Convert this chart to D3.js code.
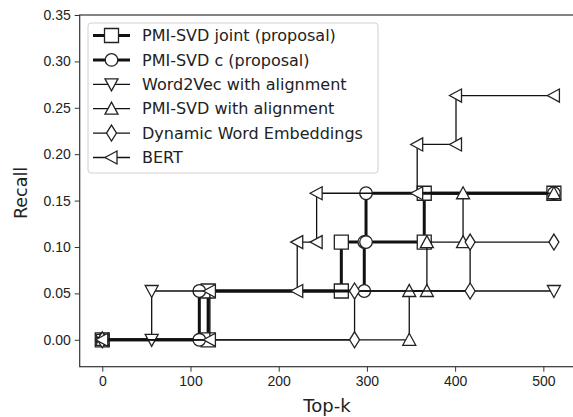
<!DOCTYPE html>
<html>
<head>
<meta charset="utf-8">
<script src="https://cdn.jsdelivr.net/npm/d3@7"></script>
<style>
    html, body { margin: 0; padding: 0; background: #fff; }
    svg { display: block; font-family: "DejaVu Sans", sans-serif; }
</style>
</head>
<body>
<svg id="chart" width="573" height="417"></svg>
<script>

// series, in legend order
const seriesNames = [
    "PMI-SVD joint (proposal)",
    "PMI-SVD c (proposal)",
    "Word2Vec with alignment",
    "PMI-SVD with alignment",
    "Dynamic Word Embeddings",
    "BERT"
];

const jointTopK   = [0, 120, 120, 271, 271, 365, 365, 512];
const jointRecall = [0, 0, 0.0526, 0.0526, 0.1053, 0.1053, 0.1579, 0.1579];

const cTopK   = [0, 110, 110, 297, 297, 299, 299, 512];
const cRecall = [0, 0, 0.0526, 0.0526, 0.1053, 0.1053, 0.1579, 0.1579];

const w2vTopK   = [0, 56, 56, 512];
const w2vRecall = [0, 0, 0.0526, 0.0526];

const alignTopK   = [0, 348, 348, 368, 368, 409, 409, 512];
const alignRecall = [0, 0, 0.0526, 0.0526, 0.1053, 0.1053, 0.1579, 0.1579];

const dweTopK   = [0, 286, 286, 417, 417, 512];
const dweRecall = [0, 0, 0.0526, 0.0526, 0.1053, 0.1053];

const bertTopK   = [0, 122, 122, 221, 221, 243, 243, 357, 357, 401, 401, 512];
const bertRecall = [0, 0, 0.0526, 0.0526, 0.1053, 0.1053, 0.1579, 0.1579, 0.2105, 0.2105, 0.2632, 0.2632];

const xTicks = [0, 100, 200, 300, 400, 500];
const yTicks = [0, 0.05, 0.10, 0.15, 0.20, 0.25, 0.30, 0.35];

// build the table the chart uses
const allTopK   = [jointTopK, cTopK, w2vTopK, alignTopK, dweTopK, bertTopK];
const allRecall = [jointRecall, cRecall, w2vRecall, alignRecall, dweRecall, bertRecall];
const markers   = ["square", "circle", "triDown", "triUp", "diamond", "triLeft"];
const widths    = [3, 3, 1.3, 1.3, 1.3, 1.3];

const series = seriesNames.map((name, i) => ({
    name: name,
    marker: markers[i],
    lw: widths[i],
    values: allTopK[i].map((k, j) => ({k: k, r: allRecall[i][j]}))
}));

const svg = d3.select("#chart");

const plot = {left: 79.7, right: 576.5, top: 15, bottom: 366.7};

const x = d3.scaleLinear()
    .domain([-25.6, 537.6])
    .range([plot.left, plot.right]);

const y = d3.scaleLinear()
    .domain([-0.029, 0.35])
    .range([plot.bottom, plot.top]);

/*
 * marker path, centred on 0,0
 */
const markerPath = (type) => {
    const s = 7;
    switch (type) {
        case "square":
            return `M${-s},${-s}H${s}V${s}H${-s}Z`;
        case "circle":
            return d3.symbol().type(d3.symbolCircle).size(Math.PI * 6.3 * 6.3)();
        case "triDown":
            return "M-6.5,-5.5L6.5,-5.5L0,6.5Z";
        case "triUp":
            return "M-6.5,5.5L6.5,5.5L0,-6.5Z";
        case "triLeft":
            return "M5.5,-6.5L5.5,6.5L-6.5,0Z";
        case "diamond":
            return "M0,-8L5,0L0,8L-5,0Z";
    }
};

// axes
const xAxis = svg.append("g")
    .attr("transform", `translate(0,${plot.bottom})`)
    .call(d3.axisBottom(x).tickValues(xTicks).tickSize(5).tickPadding(4).tickFormat(d3.format("d")));

const yAxis = svg.append("g")
    .attr("transform", `translate(${plot.left},0)`)
    .call(d3.axisLeft(y).tickValues(yTicks).tickSize(5).tickPadding(4).tickFormat(d3.format(".2f")));

[xAxis, yAxis].forEach(a => {
    a.select(".domain").remove();
    a.selectAll(".tick line").attr("stroke", "#333").attr("stroke-width", 1);
    a.selectAll(".tick text")
        .attr("fill", "#222")
        .style("font-size", "14px");
});

// spines
svg.append("rect")
    .attr("x", plot.left)
    .attr("y", plot.top)
    .attr("width", plot.right - plot.left)
    .attr("height", plot.bottom - plot.top)
    .attr("fill", "none")
    .attr("stroke", "#333")
    .attr("stroke-width", 1.2);

// lines + markers
const line = d3.line()
    .x(d => x(d.k))
    .y(d => y(d.r));

const gSeries = svg.append("g")
    .selectAll("g")
    .data(series)
    .join("g");

gSeries.append("path")
    .attr("d", d => line(d.values))
    .attr("fill", "none")
    .attr("stroke", "#111")
    .attr("stroke-width", d => d.lw)
    .attr("stroke-linejoin", "miter");

gSeries.each(function(s) {
    d3.select(this)
        .selectAll("path.mk")
        .data(s.values)
        .join("path")
            .attr("class", "mk")
            .attr("transform", d => `translate(${x(d.k)},${y(d.r)})`)
            .attr("d", markerPath(s.marker))
            .attr("fill", "#fff")
            .attr("stroke", "#222")
            .attr("stroke-width", 1.3);
});

// axis labels
svg.append("text")
    .attr("x", 327)
    .attr("y", 412)
    .attr("text-anchor", "middle")
    .attr("fill", "#222")
    .style("font-size", "18px")
    .text("Top-k");

svg.append("text")
    .attr("transform", "translate(27,193) rotate(-90)")
    .attr("text-anchor", "middle")
    .attr("fill", "#222")
    .style("font-size", "17.5px")
    .text("Recall");

// legend
const legend = svg.append("g")
    .attr("transform", "translate(88,23)");

legend.append("rect")
    .attr("width", 290)
    .attr("height", 150)
    .attr("rx", 3)
    .attr("fill", "#fff")
    .attr("fill-opacity", 0.85)
    .attr("stroke", "#d0d0d0");

const entries = legend.selectAll("g.entry")
    .data(series)
    .join("g")
        .attr("class", "entry")
        .attr("transform", (d, i) => `translate(0,${12.5 + i * 24.4})`);

entries.append("line")
    .attr("x1", 5)
    .attr("x2", 42)
    .attr("stroke", "#111")
    .attr("stroke-width", d => d.lw);

entries.append("path")
    .attr("transform", "translate(23.5,0)")
    .attr("d", d => markerPath(d.marker))
    .attr("fill", "#fff")
    .attr("stroke", "#222")
    .attr("stroke-width", 1.3);

entries.append("text")
    .attr("x", 54)
    .attr("dy", "0.35em")
    .attr("fill", "#222")
    .style("font-size", "16px")
    .text(d => d.name);

</script>
</body>
</html>
